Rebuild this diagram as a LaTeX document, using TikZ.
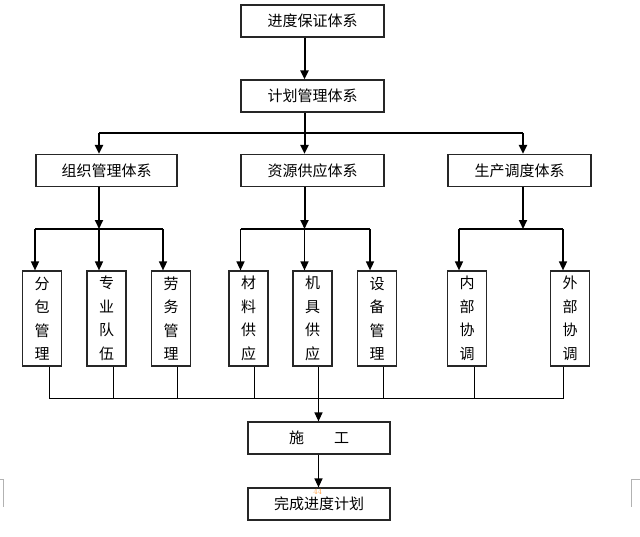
\documentclass[tikz,border=0pt]{standalone}
\usepackage{fontspec}
\newfontfamily\cjk{Noto Sans CJK SC}
\usetikzlibrary{arrows.meta,calc}
\begin{document}
\begin{tikzpicture}[x=1pt,y=-1pt,
 box/.style={draw=black!85, line width=1.2pt, fill=white, minimum width=143pt, minimum height=32pt, inner sep=0pt, font=\cjk\fontsize{15}{15}\selectfont},
 vbox/.style={draw=black!85, line width=1.2pt, fill=white, minimum width=39pt, minimum height=95pt, inner sep=0pt, align=center, font=\cjk\fontsize{15}{23.5}\selectfont},
 thickarrow/.style={line width=2pt, -{Triangle[length=9pt,width=8pt]}},
 midarrow/.style={line width=1.5pt, -{Triangle[length=9pt,width=8pt]}},
 bus/.style={line width=2pt},
 thinline/.style={line width=1pt},
 thinarrow/.style={line width=1.2pt, -{Triangle[length=9pt,width=8pt]}},
 cropmark/.style={draw=gray!60, line width=1pt},
]
\useasboundingbox (0,0) rectangle (640,536);

% boxes
\node[box] (A) at (312.5,21) {进度保证体系};
\node[box] (B) at (312.5,96) {计划管理体系};
\node[box, minimum width=141pt] (C1) at (106.5,170.5) {组织管理体系};
\node[box] (C2) at (312.5,170.5) {资源供应体系};
\node[box] (C3) at (519.5,170.5) {生产调度体系};

\node[vbox] (D1) at (42,318.5) {分\\包\\管\\理};
\node[vbox] (D2) at (106.5,318.5) {专\\业\\队\\伍};
\node[vbox] (D3) at (171,318.5) {劳\\务\\管\\理};
\node[vbox] (D4) at (248.5,318.5) {材\\料\\供\\应};
\node[vbox] (D5) at (312.5,318.5) {机\\具\\供\\应};
\node[vbox] (D6) at (377,318.5) {设\\备\\管\\理};
\node[vbox] (D7) at (467,318.5) {内\\部\\协\\调};
\node[vbox] (D8) at (570,318.5) {外\\部\\协\\调};

\node[box, minimum width=142pt] (E) at (319,438) {施\hspace{2em}工};
\node[box, minimum width=142pt] (F) at (319,504) {完成进度计划};

% coordinates
\coordinate (b0) at (304.5,133);
\coordinate (bL) at (99,133);
\coordinate (bR) at (523,133);
\coordinate (gL) at (99,229);
\coordinate (gM) at (304.5,229);
\coordinate (gR) at (523,229);
\coordinate (l1) at (35,229);
\coordinate (l2) at (99,229);
\coordinate (l3) at (163,229);
\coordinate (m1) at (240.5,229);
\coordinate (m2) at (304.5,229);
\coordinate (m3) at (370,229);
\coordinate (r1) at (459,229);
\coordinate (r2) at (563,229);
\coordinate (e1) at (49,398);
\coordinate (e2) at (113,398);
\coordinate (e3) at (177,398);
\coordinate (e4) at (254.5,398);
\coordinate (e5) at (318.5,398);
\coordinate (e6) at (383,398);
\coordinate (e7) at (474,398);
\coordinate (e8) at (563.5,398);

% top part
\draw[thickarrow] (A.south -| b0) -- (B.north -| b0);
\draw[bus] (B.south -| b0) -- (b0);
\draw[bus] (bL) -- (bR);
\draw[thickarrow] (bL) -- (bL |- C1.north);
\draw[thickarrow] (b0) -- (b0 |- C2.north);
\draw[thickarrow] (bR) -- (bR |- C3.north);

% second level
\draw[thickarrow] (C1.south -| gL) -- (gL);
\draw[thickarrow] (C2.south -| gM) -- (gM);
\draw[thickarrow] (C3.south -| gR) -- (gR);
\draw[bus] (l1) -- (l3);
\draw[bus] (m1) -- (m3);
\draw[bus] (r1) -- (r2);
\draw[midarrow] (l1) -- (l1 |- D1.north);
\draw[midarrow] (l2) -- (l2 |- D2.north);
\draw[midarrow] (l3) -- (l3 |- D3.north);
\draw[midarrow] (m1) -- (m1 |- D4.north);
\draw[midarrow] (m2) -- (m2 |- D5.north);
\draw[midarrow] (m3) -- (m3 |- D6.north);
\draw[midarrow] (r1) -- (r1 |- D7.north);
\draw[midarrow] (r2) -- (r2 |- D8.north);

% bottom collection
\draw[thinline] (e1 |- D1.south) -- (e1);
\draw[thinline] (e2 |- D2.south) -- (e2);
\draw[thinline] (e3 |- D3.south) -- (e3);
\draw[thinline] (e4 |- D4.south) -- (e4);
\draw[thinline] (e5 |- D5.south) -- (e5);
\draw[thinline] (e6 |- D6.south) -- (e6);
\draw[thinline] (e7 |- D7.south) -- (e7);
\draw[thinline] (e8 |- D8.south) -- (e8);
\draw[thinline] (e1) -- (e8);
\draw[thinarrow] (e5) -- (e5 |- E.north);
\draw[thinarrow] (E.south -| e5) -- (F.north -| e5);

% faint page number
\node[font=\fontsize{8}{8}\selectfont, text=orange!75, inner sep=0pt] (pg) at (317.5,492) {44};

% crop marks
\draw[cropmark] (0,479.5) -- (3,479.5) -- (3,507);
\draw[cropmark] (640,479.5) -- (631,479.5) -- (631,507);
\end{tikzpicture}
\end{document}
